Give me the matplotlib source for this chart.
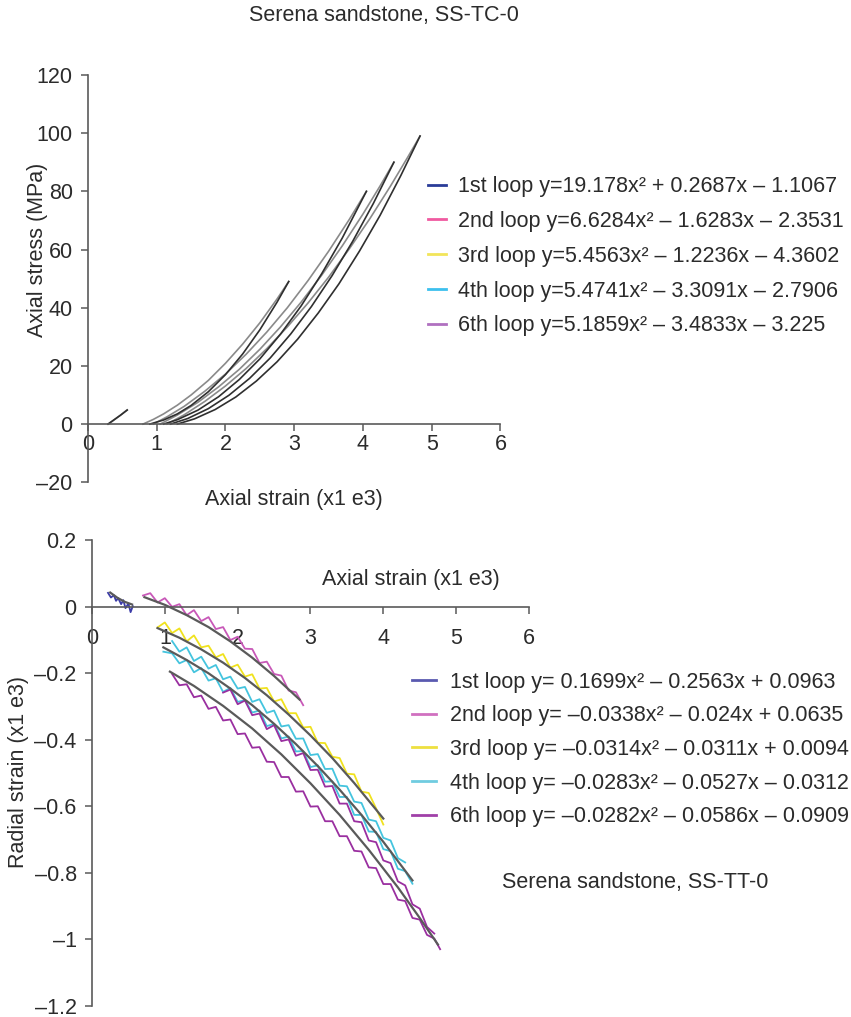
import matplotlib

matplotlib.use("Agg")
import matplotlib.pyplot as plt
from matplotlib.lines import Line2D

plt.rcParams["font.family"] = ["Liberation Sans", "DejaVu Sans"]
FS = 15.5
TXT = "#2b2b2b"

# ---------------- top panel: axial stress vs axial strain (SS-TC-0) ----------------
TC_XTICKS = [0, 1, 2, 3, 4, 5, 6]
TC_YTICKS = [-20, 0, 20, 40, 60, 80, 100, 120]
TC_YLABELS = ["\u201320", "0", "20", "40", "60", "80", "100", "120"]

# loading (dark) and unloading (light) branches of each loop
TC_LOAD_X = [
    [0.29, 0.38, 0.47, 0.57],
    [0.9, 1.1, 1.3, 1.5, 1.75, 2.0, 2.25, 2.5, 2.75, 2.92],
    [1.1, 1.3, 1.6, 1.9, 2.2, 2.5, 2.8, 3.1, 3.4, 3.7, 4.05],
    [1.2, 1.45, 1.75, 2.05, 2.35, 2.65, 2.95, 3.25, 3.55, 3.85, 4.15, 4.45],
    [1.3, 1.55, 1.85, 2.15, 2.45, 2.75, 3.05, 3.35, 3.65, 3.95, 4.25, 4.55, 4.83],
]
TC_LOAD_Y = [
    [0, 1.5, 3.0, 4.8],
    [0, 1.4, 3.5, 6.4, 11.1, 17.0, 24.1, 32.4, 41.9, 49.0],
    [0, 1.5, 4.8, 9.4, 15.3, 22.4, 30.9, 40.6, 51.7, 64.0, 80.0],
    [0, 1.9, 5.3, 9.9, 15.7, 22.7, 31.0, 40.4, 51.0, 62.8, 75.8, 90.0],
    [0, 1.8, 5.0, 9.3, 14.8, 21.4, 29.2, 38.2, 48.2, 59.5, 71.8, 85.4, 99.0],
]
TC_UNLOAD_X = [
    [0.30, 0.39, 0.48, 0.57],
    [0.8, 0.95, 1.1, 1.3, 1.5, 1.75, 2.0, 2.25, 2.5, 2.75, 2.92],
    [0.95, 1.15, 1.4, 1.7, 2.0, 2.3, 2.6, 2.9, 3.2, 3.5, 3.8, 4.05],
    [1.05, 1.3, 1.6, 1.9, 2.2, 2.5, 2.8, 3.1, 3.4, 3.7, 4.0, 4.25, 4.45],
    [1.15, 1.4, 1.7, 2.0, 2.3, 2.6, 2.9, 3.2, 3.5, 3.8, 4.1, 4.4, 4.65, 4.83],
]
TC_UNLOAD_Y = [
    [0, 1.6, 3.2, 4.9],
    [0, 1.6, 3.5, 6.5, 10.0, 15.0, 20.9, 27.5, 34.8, 43.0, 49.0],
    [0, 2.5, 6.1, 11.3, 17.2, 24.0, 31.6, 40.0, 49.3, 59.4, 70.3, 80.0],
    [0, 3.1, 7.5, 12.8, 18.8, 25.7, 33.4, 41.9, 51.2, 61.3, 72.2, 81.9, 90.0],
    [0, 3.2, 7.8, 13.1, 19.1, 25.9, 33.4, 41.6, 50.5, 60.2, 70.6, 81.8, 91.7, 99.0],
]
TC_LEGEND = [
    "1st loop y=19.178x\u00b2 + 0.2687x \u2013 1.1067",
    "2nd loop y=6.6284x\u00b2 \u2013 1.6283x \u2013 2.3531",
    "3rd loop y=5.4563x\u00b2 \u2013 1.2236x \u2013 4.3602",
    "4th loop y=5.4741x\u00b2 \u2013 3.3091x \u2013 2.7906",
    "6th loop y=5.1859x\u00b2 \u2013 3.4833x \u2013 3.225",
]
TC_LEGEND_COLORS = ["#2a3c98", "#f05aa0", "#f2e55a", "#3cc0ee", "#b070c0"]

# ---------------- bottom panel: radial strain vs axial strain (SS-TT-0) ----------------
TT_XTICKS = [0, 1, 2, 3, 4, 5, 6]
TT_YTICKS = [-1.2, -1.0, -0.8, -0.6, -0.4, -0.2, 0.0, 0.2]
TT_YLABELS = ["\u20131.2", "\u20131", "\u20130.8", "\u20130.6", "\u20130.4", "\u20130.2", "0", "0.2"]

TT1_X = [0.22, 0.26, 0.30, 0.33, 0.36, 0.40, 0.43, 0.46, 0.50, 0.53, 0.56]
TT1_Y = [0.042, 0.028, 0.035, 0.018, 0.026, 0.008, 0.020, -0.004, 0.010, -0.016, 0.002]

TT2_X = [0.7, 0.8, 0.9, 1.0, 1.1, 1.2, 1.3, 1.4, 1.5, 1.6, 1.7, 1.8, 1.9, 2.0, 2.1, 2.2,
         2.3, 2.4, 2.5, 2.6, 2.7, 2.8, 2.9]
TT2_Y = [0.034, 0.041, 0.013, 0.026, 0.000, 0.008, -0.025, -0.010, -0.043, -0.031, -0.067,
         -0.061, -0.100, -0.090, -0.126, -0.127, -0.169, -0.165, -0.202, -0.207, -0.252,
         -0.257, -0.296]

TT3_X = [0.9, 1.0, 1.1, 1.2, 1.3, 1.4, 1.5, 1.6, 1.7, 1.8, 1.9, 2.0, 2.1, 2.2, 2.3, 2.4,
         2.5, 2.6, 2.7, 2.8, 2.9, 3.0, 3.1, 3.2, 3.3, 3.4, 3.5, 3.6, 3.7, 3.8, 3.9, 4.0]
TT3_Y = [-0.062, -0.047, -0.079, -0.065, -0.104, -0.086, -0.122, -0.117, -0.152, -0.142,
         -0.183, -0.174, -0.210, -0.203, -0.246, -0.244, -0.285, -0.278, -0.320, -0.320,
         -0.363, -0.361, -0.409, -0.410, -0.451, -0.455, -0.502, -0.504, -0.556, -0.560,
         -0.606, -0.655]

TT4A_X = [1.1, 1.2, 1.3, 1.4, 1.5, 1.6, 1.7, 1.8, 1.9, 2.0, 2.1, 2.2, 2.3, 2.4, 2.5, 2.6,
          2.7, 2.8, 2.9, 3.0, 3.1, 3.2, 3.3, 3.4, 3.5, 3.6, 3.7, 3.8, 3.9, 4.0, 4.1, 4.2, 4.3]
TT4A_Y = [-0.103, -0.135, -0.122, -0.163, -0.150, -0.186, -0.175, -0.218, -0.210, -0.246,
          -0.241, -0.286, -0.278, -0.319, -0.312, -0.360, -0.356, -0.397, -0.396, -0.446,
          -0.443, -0.488, -0.487, -0.538, -0.540, -0.586, -0.590, -0.640, -0.645, -0.695,
          -0.703, -0.756, -0.769]
TT4B_X = [0.98, 1.1, 1.2, 1.3, 1.4, 1.5, 1.6, 1.7, 1.8, 1.9, 2.0, 2.1, 2.2, 2.3, 2.4, 2.5,
          2.6, 2.7, 2.8, 2.9, 3.0, 3.1, 3.2, 3.3, 3.4, 3.5, 3.6, 3.7, 3.8, 3.9, 4.0, 4.1,
          4.2, 4.3, 4.4]
TT4B_Y = [-0.135, -0.140, -0.170, -0.160, -0.197, -0.184, -0.222, -0.215, -0.256, -0.244,
          -0.286, -0.281, -0.318, -0.312, -0.359, -0.352, -0.396, -0.390, -0.435, -0.434,
          -0.482, -0.477, -0.526, -0.525, -0.572, -0.572, -0.626, -0.626, -0.676, -0.677,
          -0.729, -0.735, -0.788, -0.795, -0.833]

TT6A_X = [1.8, 1.9, 2.0, 2.1, 2.2, 2.3, 2.4, 2.5, 2.6, 2.7, 2.8, 2.9, 3.0, 3.1, 3.2, 3.3,
          3.4, 3.5, 3.6, 3.7, 3.8, 3.9, 4.0, 4.1, 4.2, 4.3, 4.4, 4.5, 4.6, 4.7]
TT6A_Y = [-0.258, -0.249, -0.293, -0.282, -0.326, -0.321, -0.368, -0.356, -0.404, -0.399,
          -0.448, -0.440, -0.491, -0.490, -0.541, -0.539, -0.592, -0.592, -0.645, -0.648,
          -0.703, -0.708, -0.763, -0.771, -0.826, -0.838, -0.895, -0.908, -0.963, -0.983]
TT6B_X = [1.1, 1.2, 1.3, 1.4, 1.5, 1.6, 1.7, 1.8, 1.9, 2.0, 2.1, 2.2, 2.3, 2.4, 2.5, 2.6,
          2.7, 2.8, 2.9, 3.0, 3.1, 3.2, 3.3, 3.4, 3.5, 3.6, 3.7, 3.8, 3.9, 4.0, 4.1, 4.2,
          4.3, 4.4, 4.5, 4.6, 4.7, 4.78]
TT6B_Y = [-0.202, -0.236, -0.233, -0.272, -0.267, -0.307, -0.301, -0.342, -0.339, -0.383,
          -0.381, -0.424, -0.422, -0.466, -0.467, -0.512, -0.512, -0.556, -0.555, -0.601,
          -0.600, -0.645, -0.645, -0.690, -0.690, -0.734, -0.736, -0.784, -0.786, -0.834,
          -0.834, -0.881, -0.885, -0.936, -0.941, -0.987, -0.998, -1.030]

# fitted trend lines (grey)
FIT1_X = [0.25, 0.35, 0.45, 0.55]
FIT1_Y = [0.043, 0.027, 0.015, 0.007]
FIT2_X = [0.72, 1.0, 1.3, 1.6, 1.9, 2.2, 2.5, 2.85]
FIT2_Y = [0.029, 0.006, -0.025, -0.061, -0.104, -0.153, -0.208, -0.279]
FIT3_X = [0.9, 1.2, 1.5, 1.8, 2.1, 2.4, 2.7, 3.0, 3.3, 3.6, 3.9, 4.0]
FIT3_Y = [-0.064, -0.093, -0.128, -0.168, -0.214, -0.266, -0.324, -0.387, -0.455, -0.530,
          -0.610, -0.637]
FIT4_X = [0.98, 1.3, 1.6, 1.9, 2.2, 2.5, 2.8, 3.1, 3.4, 3.7, 4.0, 4.4]
FIT4_Y = [-0.122, -0.160, -0.200, -0.246, -0.296, -0.352, -0.413, -0.479, -0.550, -0.626,
          -0.707, -0.823]
FIT6_X = [1.07, 1.4, 1.8, 2.2, 2.6, 3.0, 3.4, 3.8, 4.2, 4.5, 4.75]
FIT6_Y = [-0.195, -0.238, -0.298, -0.366, -0.444, -0.531, -0.626, -0.731, -0.844, -0.936,
          -1.016]

TT_LEGEND = [
    "1st loop y= 0.1699x\u00b2 \u2013 0.2563x + 0.0963",
    "2nd loop y= \u20130.0338x\u00b2 \u2013 0.024x + 0.0635",
    "3rd loop y= \u20130.0314x\u00b2 \u2013 0.0311x + 0.0094",
    "4th loop y= \u20130.0283x\u00b2 \u2013 0.0527x \u2013 0.0312",
    "6th loop y= \u20130.0282x\u00b2 \u2013 0.0586x \u2013 0.0909",
]
TT_LEGEND_COLORS = ["#5a5ab0", "#d070c0", "#eee040", "#70cce0", "#a040a8"]

C_BLUE, C_MAG, C_YEL, C_CYAN, C_PURP = "#3c3ca8", "#c858b8", "#f0e21e", "#44c4de", "#9a2fa0"
C_FIT = "#5a5a5a"


def style_axes(ax, xpad):
    for side in ["top", "right"]:
        ax.spines[side].set_visible(False)
    ax.spines["bottom"].set_position(("data", 0))
    for side in ["left", "bottom"]:
        ax.spines[side].set_color("#5a5a5a")
        ax.spines[side].set_linewidth(1.2)
    ax.tick_params(axis="y", direction="out", length=5, width=1.1, color="#5a5a5a",
                   labelsize=FS, labelcolor=TXT, pad=6)
    ax.tick_params(axis="x", direction="out", length=5, width=1.1, color="#5a5a5a",
                   labelsize=FS, labelcolor=TXT, pad=xpad)
    ax.set_facecolor("none")


fig = plt.figure(figsize=(8.51, 10.17), dpi=100)

# top panel
ax1 = fig.add_axes([0.1034, 0.5258, 0.4847, 0.4005])
for xs, ys in zip(TC_UNLOAD_X, TC_UNLOAD_Y):
    ax1.plot(xs, ys, color="#8a8a8a", lw=1.2)
for xs, ys in zip(TC_LOAD_X, TC_LOAD_Y):
    ax1.plot(xs, ys, color="#2f2f2f", lw=1.2)
ax1.set_xlim(0, 6)
ax1.set_ylim(-20, 120)
ax1.set_xticks(TC_XTICKS, [str(v) for v in TC_XTICKS])
ax1.set_yticks(TC_YTICKS, TC_YLABELS)
style_axes(ax1, 2)
handles = [Line2D([], [], color=c, lw=2) for c in TC_LEGEND_COLORS]
ax1.legend(handles, TC_LEGEND, loc="center left", bbox_to_anchor=(0.503, 0.748),
           bbox_transform=fig.transFigure, frameon=False, fontsize=FS, borderpad=0,
           borderaxespad=0, handlelength=0.85, handletextpad=0.55, labelspacing=0.64,
           labelcolor=TXT)

# bottom panel
ax2 = fig.add_axes([0.1081, 0.0111, 0.5135, 0.4576])
ax2.plot(TT2_X, TT2_Y, color=C_MAG, lw=1.3)
ax2.plot(TT6B_X, TT6B_Y, color=C_PURP, lw=1.3)
ax2.plot(TT4B_X, TT4B_Y, color=C_CYAN, lw=1.3)
ax2.plot(TT6A_X, TT6A_Y, color=C_PURP, lw=1.3)
ax2.plot(TT4A_X, TT4A_Y, color=C_CYAN, lw=1.3)
ax2.plot(TT3_X, TT3_Y, color=C_YEL, lw=1.3)
ax2.plot(TT1_X, TT1_Y, color=C_BLUE, lw=1.3)
for xs, ys in [(FIT1_X, FIT1_Y), (FIT2_X, FIT2_Y), (FIT3_X, FIT3_Y),
               (FIT4_X, FIT4_Y), (FIT6_X, FIT6_Y)]:
    ax2.plot(xs, ys, color=C_FIT, lw=1.6)
ax2.set_xlim(0, 6)
ax2.set_ylim(-1.2, 0.2)
ax2.set_xticks(TT_XTICKS, [str(v) for v in TT_XTICKS])
ax2.set_yticks(TT_YTICKS, TT_YLABELS)
style_axes(ax2, 10)
handles = [Line2D([], [], color=c, lw=2) for c in TT_LEGEND_COLORS]
ax2.legend(handles, TT_LEGEND, loc="center left", bbox_to_anchor=(0.484, 0.263),
           bbox_transform=fig.transFigure, frameon=False, fontsize=FS, borderpad=0,
           borderaxespad=0, handlelength=1.1, handletextpad=0.65, labelspacing=0.59,
           labelcolor=TXT)

# texts
fig.text(0.451, 0.985, "Serena sandstone, SS-TC-0", ha="center", va="center",
         fontsize=FS, color=TXT)
fig.text(0.345, 0.509, "Axial strain (x1 e3)", ha="center", va="center",
         fontsize=FS, color=TXT)
fig.text(0.044, 0.754, "Axial stress (MPa)", ha="center", va="center",
         rotation=90, fontsize=FS, color=TXT)
fig.text(0.483, 0.430, "Axial strain (x1 e3)", ha="center", va="center",
         fontsize=FS, color=TXT)
fig.text(0.022, 0.241, "Radial strain (x1 e3)", ha="center", va="center",
         rotation=90, fontsize=FS, color=TXT)
fig.text(0.746, 0.132, "Serena sandstone, SS-TT-0", ha="center", va="center",
         fontsize=FS, color=TXT)

fig.savefig("out.png", dpi=100, facecolor="white")
